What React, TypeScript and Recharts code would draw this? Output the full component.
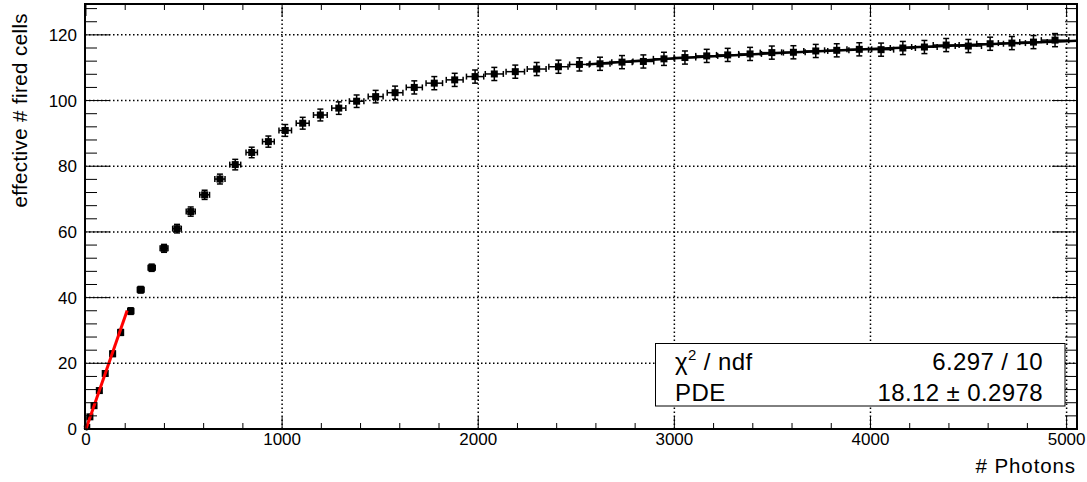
import React from "react";
import {
  ComposedChart,
  Scatter,
  XAxis,
  YAxis,
  ErrorBar,
  ReferenceLine,
  ReferenceArea,
} from "recharts";

// measured points: photons vs effective fired cells
const photons = [
  4, 20, 41, 68, 98, 136, 177, 228, 279, 335, 398, 464, 534, 605, 683, 761,
  845, 930, 1016, 1105, 1195, 1289, 1380, 1477, 1576, 1674, 1776, 1880, 1984,
  2082, 2189, 2298, 2409, 2516, 2621, 2733, 2842, 2947, 3054, 3165, 3272, 3386,
  3497, 3607, 3721, 3828, 3943, 4054, 4165, 4275, 4386, 4499, 4610, 4721, 4831,
  4941,
];
const cells = [
  0.5, 3.7, 7.1, 11.7, 16.9, 22.9, 29.4, 35.9, 42.4, 49.1, 55.0, 61.0, 66.2,
  71.3, 76.1, 80.5, 84.2, 87.5, 90.9, 93.1, 95.6, 97.7, 99.8, 101.2, 102.4,
  104.0, 105.3, 106.3, 107.3, 108.1, 108.8, 109.6, 110.3, 111.0, 111.2, 111.7,
  111.9, 112.7, 113.1, 113.6, 113.9, 114.2, 114.6, 114.7, 115.1, 115.3, 115.6,
  115.5, 116.0, 116.3, 116.9, 116.6, 117.3, 117.5, 117.8, 118.4,
];
const errPhotons = [
  2, 4, 6, 8, 10, 12, 13, 15, 17, 18, 20, 22, 23, 25, 26, 28, 29, 30, 32, 33,
  35, 36, 37, 38, 40, 41, 42, 43, 44, 46, 47, 48, 49, 50, 51, 52, 53, 54, 55,
  56, 57, 58, 59, 60, 61, 62, 63, 64, 64, 65, 66, 67, 68, 69, 70, 70,
];
const errCells = [
  0.3, 0.4, 0.5, 0.6, 0.7, 0.8, 0.9, 1.0, 1.0, 1.1, 1.2, 1.3, 1.4, 1.4, 1.5,
  1.6, 1.6, 1.7, 1.8, 1.8, 1.8, 1.9, 1.9, 1.9, 2.0, 2.0, 2.0, 2.0, 2.0, 2.0,
  2.0, 2.0, 2.0, 2.0, 2.0, 2.0, 2.0, 2.0, 2.0, 2.0, 2.0, 2.0, 2.0, 2.0, 2.0,
  2.0, 2.0, 2.0, 2.0, 2.0, 2.0, 2.0, 2.0, 2.0, 2.0, 2.0,
];

// linear fit (red) at low photon counts
const linFitX = [0, 210];
const linFitY = [0, 36.1];
// saturation fit (black) at high photon counts
const satFitX = [2550, 3000, 3500, 4000, 4500, 5053];
const satFitY = [111.0, 112.9, 114.4, 115.7, 116.9, 118.2];

const xTicks = [
  0, 200, 400, 600, 800, 1000, 1200, 1400, 1600, 1800, 2000, 2200, 2400, 2600,
  2800, 3000, 3200, 3400, 3600, 3800, 4000, 4200, 4400, 4600, 4800, 5000,
];
const yTicks = [
  0, 4, 8, 12, 16, 20, 24, 28, 32, 36, 40, 44, 48, 52, 56, 60, 64, 68, 72, 76,
  80, 84, 88, 92, 96, 100, 104, 108, 112, 116, 120, 124, 128,
];
const gridX = [1000, 2000, 3000, 4000, 5000];
const gridY = [20, 40, 60, 80, 100, 120];

const X_DOMAIN: [number, number] = [-5, 5053];
const Y_DOMAIN: [number, number] = [0, 129.4];

const W = 1087;
const H = 482;
const PLOT_LEFT = 85;
const PLOT_RIGHT = 1077;
const PLOT_TOP = 4;
const PLOT_BOTTOM = 429;
const FONT = "'Liberation Sans', Arial, Helvetica, sans-serif";

const points = photons.map((x, i) => ({
  x,
  y: cells[i],
  ex: errPhotons[i],
  ey: errCells[i],
}));
const linFit = linFitX.map((x, i) => ({ x, y: linFitY[i] }));
const satFit = satFitX.map((x, i) => ({ x, y: satFitY[i] }));

const XTick = (props: any) => {
  const { x, payload } = props;
  const v = payload.value;
  const major = v % 1000 === 0;
  const len = major ? 12 : 6;
  return (
    <g>
      <line x1={x} x2={x} y1={PLOT_BOTTOM} y2={PLOT_BOTTOM - len} stroke="#000" />
      <line x1={x} x2={x} y1={PLOT_TOP} y2={PLOT_TOP + len} stroke="#000" />
      {major && (
        <text x={x} y={445} textAnchor="middle" fontSize={17} fontFamily={FONT} fill="#000">
          {v}
        </text>
      )}
    </g>
  );
};

const YTick = (props: any) => {
  const { y, payload } = props;
  const v = payload.value;
  const major = v % 20 === 0;
  const len = major ? 25 : 12;
  return (
    <g>
      <line x1={PLOT_LEFT} x2={PLOT_LEFT + len} y1={y} y2={y} stroke="#000" />
      <line x1={PLOT_RIGHT} x2={PLOT_RIGHT - len} y1={y} y2={y} stroke="#000" />
      {major && (
        <text x={77} y={y + 6} textAnchor="end" fontSize={17} fontFamily={FONT} fill="#000">
          {v}
        </text>
      )}
    </g>
  );
};

const square = (p: any) => (
  <rect x={p.cx - 3.5} y={p.cy - 3.5} width={7} height={7} fill="#000" />
);
const noShape = () => <g />;

export default function App() {
  return (
    <div style={{ position: "absolute", left: 0, top: 0, width: W, height: H, background: "#fff" }}>
      <ComposedChart
        width={W}
        height={H}
        margin={{ top: PLOT_TOP, right: W - PLOT_RIGHT, bottom: 23, left: 45 }}
      >
        <XAxis
          type="number"
          dataKey="x"
          domain={X_DOMAIN}
          ticks={xTicks}
          interval={0}
          allowDataOverflow
          tick={XTick}
          tickLine={false}
          axisLine={false}
          height={30}
        />
        <YAxis
          type="number"
          dataKey="y"
          domain={Y_DOMAIN}
          ticks={yTicks}
          interval={0}
          allowDataOverflow
          tick={YTick}
          tickLine={false}
          axisLine={false}
          width={40}
        />
        {gridX.map((v) => (
          <ReferenceLine
            key={"gx" + v}
            x={v}
            stroke="#000"
            strokeWidth={1.5}
            strokeDasharray="1.5 2.5"
            ifOverflow="visible"
          />
        ))}
        {gridY.map((v) => (
          <ReferenceLine
            key={"gy" + v}
            y={v}
            stroke="#000"
            strokeWidth={1.5}
            strokeDasharray="1.5 2.5"
            ifOverflow="visible"
          />
        ))}
        <Scatter
          data={satFit}
          line={{ stroke: "#000", strokeWidth: 2.5 }}
          shape={noShape}
          isAnimationActive={false}
        />
        <Scatter data={points} shape={square} isAnimationActive={false}>
          <ErrorBar dataKey="ey" direction="y" width={3} stroke="#000" strokeWidth={1.5} />
          <ErrorBar dataKey="ex" direction="x" width={3} stroke="#000" strokeWidth={1.5} />
        </Scatter>
        <Scatter
          data={linFit}
          line={{ stroke: "#ff0000", strokeWidth: 3 }}
          shape={noShape}
          isAnimationActive={false}
        />
        <ReferenceArea
          x1={X_DOMAIN[0]}
          x2={X_DOMAIN[1]}
          y1={Y_DOMAIN[0]}
          y2={Y_DOMAIN[1]}
          fill="#fff"
          fillOpacity={0}
          stroke="#000"
          strokeWidth={2}
        />
      </ComposedChart>
      <svg
        width={W}
        height={H}
        style={{ position: "absolute", left: 0, top: 0, pointerEvents: "none" }}
        fontFamily={FONT}
      >
        <text
          transform="translate(27,13) rotate(-90)"
          textAnchor="end"
          fontSize={20.5}
          letterSpacing={0.4}
          fill="#000"
        >
          effective # fired cells
        </text>
        <text x={1076} y={473} textAnchor="end" fontSize={20.5} letterSpacing={0.9} fill="#000">
          # Photons
        </text>
        <rect x={655.5} y={343.5} width={409.5} height={62.5} fill="#fff" stroke="#000" strokeWidth={1} />
        <text x={675} y={370} fontSize={24} letterSpacing={0.4} fill="#000">
          χ<tspan fontSize={15} dy={-10}>2</tspan>
          <tspan dy={10}> / ndf</tspan>
        </text>
        <text x={1043} y={370} textAnchor="end" fontSize={24} letterSpacing={0.4} fill="#000">
          6.297 / 10
        </text>
        <text x={675} y={401} fontSize={24} letterSpacing={0.4} fill="#000">
          PDE
        </text>
        <text x={1043} y={401} textAnchor="end" fontSize={24} letterSpacing={0.4} fill="#000">
          18.12 ± 0.2978
        </text>
      </svg>
    </div>
  );
}
